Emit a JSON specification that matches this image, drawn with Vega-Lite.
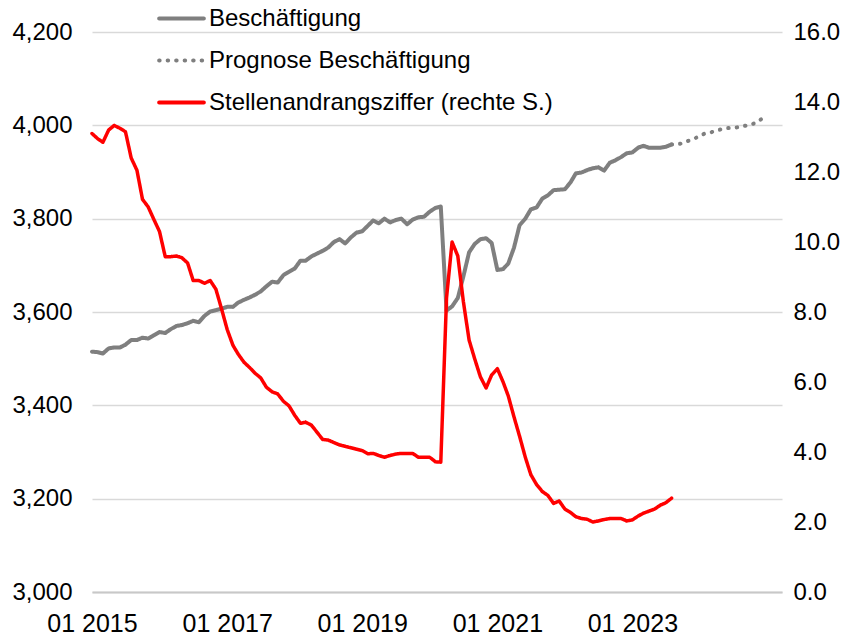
{
  "$schema": "https://vega.github.io/schema/vega-lite/v6.json",
  "width": 690,
  "height": 560,
  "autosize": {"type": "none"},
  "padding": {"left": 92, "top": 32, "right": 62, "bottom": 45},
  "background": "white",
  "config": {
    "font": "Liberation Sans",
    "view": {"stroke": null},
    "axis": {"labelColor": "#000000", "labelFontSize": 24, "ticks": false, "tickSize": 0, "domain": false, "title": null}
  },
  "datasets": {
    "emp": [
      {"d":"2015-01-01","v":3515},{"d":"2015-02-01","v":3514},{"d":"2015-03-01","v":3511},{"d":"2015-04-01","v":3522},{"d":"2015-05-01","v":3524},{"d":"2015-06-01","v":3524},{"d":"2015-07-01","v":3530},{"d":"2015-08-01","v":3540},{"d":"2015-09-01","v":3540},{"d":"2015-10-01","v":3545},{"d":"2015-11-01","v":3543},{"d":"2015-12-01","v":3550},
      {"d":"2016-01-01","v":3557},{"d":"2016-02-01","v":3555},{"d":"2016-03-01","v":3563},{"d":"2016-04-01","v":3570},{"d":"2016-05-01","v":3572},{"d":"2016-06-01","v":3576},{"d":"2016-07-01","v":3581},{"d":"2016-08-01","v":3578},{"d":"2016-09-01","v":3592},{"d":"2016-10-01","v":3601},{"d":"2016-11-01","v":3604},{"d":"2016-12-01","v":3607},
      {"d":"2017-01-01","v":3611},{"d":"2017-02-01","v":3611},{"d":"2017-03-01","v":3620},{"d":"2017-04-01","v":3626},{"d":"2017-05-01","v":3631},{"d":"2017-06-01","v":3637},{"d":"2017-07-01","v":3644},{"d":"2017-08-01","v":3655},{"d":"2017-09-01","v":3665},{"d":"2017-10-01","v":3663},{"d":"2017-11-01","v":3679},{"d":"2017-12-01","v":3686},
      {"d":"2018-01-01","v":3693},{"d":"2018-02-01","v":3710},{"d":"2018-03-01","v":3710},{"d":"2018-04-01","v":3719},{"d":"2018-05-01","v":3725},{"d":"2018-06-01","v":3731},{"d":"2018-07-01","v":3738},{"d":"2018-08-01","v":3750},{"d":"2018-09-01","v":3756},{"d":"2018-10-01","v":3747},{"d":"2018-11-01","v":3760},{"d":"2018-12-01","v":3770},
      {"d":"2019-01-01","v":3773},{"d":"2019-02-01","v":3785},{"d":"2019-03-01","v":3796},{"d":"2019-04-01","v":3790},{"d":"2019-05-01","v":3800},{"d":"2019-06-01","v":3792},{"d":"2019-07-01","v":3797},{"d":"2019-08-01","v":3800},{"d":"2019-09-01","v":3788},{"d":"2019-10-01","v":3798},{"d":"2019-11-01","v":3803},{"d":"2019-12-01","v":3804},
      {"d":"2020-01-01","v":3815},{"d":"2020-02-01","v":3823},{"d":"2020-03-01","v":3826},{"d":"2020-04-01","v":3603},{"d":"2020-05-01","v":3612},{"d":"2020-06-01","v":3630},{"d":"2020-07-01","v":3676},{"d":"2020-08-01","v":3728},{"d":"2020-09-01","v":3746},{"d":"2020-10-01","v":3756},{"d":"2020-11-01","v":3758},{"d":"2020-12-01","v":3748},
      {"d":"2021-01-01","v":3690},{"d":"2021-02-01","v":3692},{"d":"2021-03-01","v":3704},{"d":"2021-04-01","v":3738},{"d":"2021-05-01","v":3786},{"d":"2021-06-01","v":3800},{"d":"2021-07-01","v":3820},{"d":"2021-08-01","v":3824},{"d":"2021-09-01","v":3843},{"d":"2021-10-01","v":3850},{"d":"2021-11-01","v":3861},{"d":"2021-12-01","v":3862},
      {"d":"2022-01-01","v":3863},{"d":"2022-02-01","v":3878},{"d":"2022-03-01","v":3897},{"d":"2022-04-01","v":3899},{"d":"2022-05-01","v":3904},{"d":"2022-06-01","v":3908},{"d":"2022-07-01","v":3910},{"d":"2022-08-01","v":3903},{"d":"2022-09-01","v":3920},{"d":"2022-10-01","v":3925},{"d":"2022-11-01","v":3932},{"d":"2022-12-01","v":3940},
      {"d":"2023-01-01","v":3942},{"d":"2023-02-01","v":3952},{"d":"2023-03-01","v":3956},{"d":"2023-04-01","v":3952},{"d":"2023-05-01","v":3952},{"d":"2023-06-01","v":3952},{"d":"2023-07-01","v":3954},{"d":"2023-08-01","v":3959}
    ],
    "fc": [
      {"d":"2023-08-01","v":3959},{"d":"2023-09-01","v":3959},{"d":"2023-10-01","v":3962},{"d":"2023-11-01","v":3967},{"d":"2023-12-01","v":3971},
      {"d":"2024-01-01","v":3978},{"d":"2024-02-01","v":3983},{"d":"2024-03-01","v":3985},{"d":"2024-04-01","v":3989},{"d":"2024-05-01","v":3992},{"d":"2024-06-01","v":3994},{"d":"2024-07-01","v":3995},{"d":"2024-08-01","v":3996},{"d":"2024-09-01","v":3999},{"d":"2024-10-01","v":4001},{"d":"2024-11-01","v":4006},{"d":"2024-12-01","v":4014}
    ],
    "ratio": [
      {"d":"2015-01-01","r":13.1},{"d":"2015-02-01","r":12.95},{"d":"2015-03-01","r":12.85},{"d":"2015-04-01","r":13.2},{"d":"2015-05-01","r":13.33},{"d":"2015-06-01","r":13.25},{"d":"2015-07-01","r":13.15},{"d":"2015-08-01","r":12.4},{"d":"2015-09-01","r":12.05},{"d":"2015-10-01","r":11.22},{"d":"2015-11-01","r":11.0},{"d":"2015-12-01","r":10.65},
      {"d":"2016-01-01","r":10.3},{"d":"2016-02-01","r":9.58},{"d":"2016-03-01","r":9.58},{"d":"2016-04-01","r":9.6},{"d":"2016-05-01","r":9.55},{"d":"2016-06-01","r":9.4},{"d":"2016-07-01","r":8.9},{"d":"2016-08-01","r":8.9},{"d":"2016-09-01","r":8.82},{"d":"2016-10-01","r":8.9},{"d":"2016-11-01","r":8.65},{"d":"2016-12-01","r":8.1},
      {"d":"2017-01-01","r":7.5},{"d":"2017-02-01","r":7.05},{"d":"2017-03-01","r":6.8},{"d":"2017-04-01","r":6.57},{"d":"2017-05-01","r":6.42},{"d":"2017-06-01","r":6.25},{"d":"2017-07-01","r":6.12},{"d":"2017-08-01","r":5.85},{"d":"2017-09-01","r":5.72},{"d":"2017-10-01","r":5.66},{"d":"2017-11-01","r":5.45},{"d":"2017-12-01","r":5.32},
      {"d":"2018-01-01","r":5.05},{"d":"2018-02-01","r":4.82},{"d":"2018-03-01","r":4.85},{"d":"2018-04-01","r":4.77},{"d":"2018-05-01","r":4.57},{"d":"2018-06-01","r":4.36},{"d":"2018-07-01","r":4.34},{"d":"2018-08-01","r":4.27},{"d":"2018-09-01","r":4.2},{"d":"2018-10-01","r":4.16},{"d":"2018-11-01","r":4.12},{"d":"2018-12-01","r":4.08},
      {"d":"2019-01-01","r":4.04},{"d":"2019-02-01","r":3.95},{"d":"2019-03-01","r":3.96},{"d":"2019-04-01","r":3.9},{"d":"2019-05-01","r":3.85},{"d":"2019-06-01","r":3.9},{"d":"2019-07-01","r":3.94},{"d":"2019-08-01","r":3.96},{"d":"2019-09-01","r":3.96},{"d":"2019-10-01","r":3.96},{"d":"2019-11-01","r":3.85},{"d":"2019-12-01","r":3.85},
      {"d":"2020-01-01","r":3.85},{"d":"2020-02-01","r":3.72},{"d":"2020-03-01","r":3.71},{"d":"2020-04-01","r":8.4},{"d":"2020-05-01","r":10.0},{"d":"2020-06-01","r":9.6},{"d":"2020-07-01","r":8.3},{"d":"2020-08-01","r":7.2},{"d":"2020-09-01","r":6.65},{"d":"2020-10-01","r":6.15},{"d":"2020-11-01","r":5.83},{"d":"2020-12-01","r":6.2},
      {"d":"2021-01-01","r":6.38},{"d":"2021-02-01","r":6.0},{"d":"2021-03-01","r":5.6},{"d":"2021-04-01","r":5.0},{"d":"2021-05-01","r":4.45},{"d":"2021-06-01","r":3.85},{"d":"2021-07-01","r":3.35},{"d":"2021-08-01","r":3.07},{"d":"2021-09-01","r":2.87},{"d":"2021-10-01","r":2.76},{"d":"2021-11-01","r":2.53},{"d":"2021-12-01","r":2.6},
      {"d":"2022-01-01","r":2.37},{"d":"2022-02-01","r":2.27},{"d":"2022-03-01","r":2.15},{"d":"2022-04-01","r":2.1},{"d":"2022-05-01","r":2.08},{"d":"2022-06-01","r":2.0},{"d":"2022-07-01","r":2.03},{"d":"2022-08-01","r":2.07},{"d":"2022-09-01","r":2.1},{"d":"2022-10-01","r":2.1},{"d":"2022-11-01","r":2.1},{"d":"2022-12-01","r":2.03},
      {"d":"2023-01-01","r":2.06},{"d":"2023-02-01","r":2.17},{"d":"2023-03-01","r":2.25},{"d":"2023-04-01","r":2.31},{"d":"2023-05-01","r":2.37},{"d":"2023-06-01","r":2.48},{"d":"2023-07-01","r":2.55},{"d":"2023-08-01","r":2.68}
    ]
  },
  "encoding": {
    "x": {
      "field": "d", "type": "temporal",
      "scale": {"domain": [{"year": 2015, "month": 1, "date": 1}, {"year": 2025, "month": 3, "date": 20}]},
      "axis": {
        "values": [{"year": 2015, "month": 1, "date": 1}, {"year": 2017, "month": 1, "date": 1}, {"year": 2019, "month": 1, "date": 1}, {"year": 2021, "month": 1, "date": 1}, {"year": 2023, "month": 1, "date": 1}],
        "format": "%m %Y", "labelFontSize": 25, "labelPadding": 19, "labelDx": 5, "grid": false,
        "domain": true, "domainColor": "#c8c8c8", "domainWidth": 2, "labelFlush": false, "labelOverlap": false
      }
    }
  },
  "layer": [
    {
      "layer": [
        {
          "data": {"name": "emp"},
          "transform": [{"calculate": "'Beschäftigung'", "as": "s"}],
          "mark": {"type": "line", "strokeWidth": 4, "strokeCap": "round", "strokeJoin": "round"},
          "encoding": {
            "y": {"field": "v", "type": "quantitative", "scale": {"domain": [3000, 4200]},
              "axis": {"orient": "left", "values": [3000, 3200, 3400, 3600, 3800, 4000, 4200], "format": ",d", "labelPadding": 20, "grid": true, "gridColor": "#d9d9d9", "gridWidth": 1.5}},
            "color": {"field": "s", "type": "nominal",
              "scale": {"domain": ["Beschäftigung", "Prognose Beschäftigung", "Stellenandrangsziffer (rechte S.)"], "range": ["#7f7f7f", "#7f7f7f", "#ff0000"]},
              "legend": {"orient": "none", "legendX": 65, "legendY": -38, "title": null, "symbolType": "stroke", "symbolSize": 2000, "symbolStrokeWidth": 4, "labelFontSize": 24, "labelColor": "#000000", "labelOffset": 3, "rowPadding": 5, "padding": 0, "labelLimit": 500,
                "encode": {"symbols": {"update": {"strokeCap": {"value": "round"}}}}}},
            "strokeDash": {"field": "s", "type": "nominal",
              "scale": {"domain": ["Beschäftigung", "Prognose Beschäftigung", "Stellenandrangsziffer (rechte S.)"], "range": [[1, 0], [0.5, 8], [1, 0]]},
              "legend": null}
          }
        },
        {
          "data": {"name": "fc"},
          "transform": [{"calculate": "'Prognose Beschäftigung'", "as": "s"}],
          "mark": {"type": "line", "strokeWidth": 4, "strokeCap": "round"},
          "encoding": {
            "y": {"field": "v", "type": "quantitative"},
            "color": {"field": "s", "type": "nominal"},
            "strokeDash": {"field": "s", "type": "nominal"}
          }
        }
      ]
    },
    {
      "data": {"name": "ratio"},
      "transform": [{"calculate": "'Stellenandrangsziffer (rechte S.)'", "as": "s"}],
      "mark": {"type": "line", "strokeWidth": 3.5, "strokeCap": "round", "strokeJoin": "round"},
      "encoding": {
        "y": {"field": "r", "type": "quantitative", "scale": {"domain": [0, 16]},
          "axis": {"orient": "right", "values": [0, 2, 4, 6, 8, 10, 12, 14, 16], "format": ".1f", "labelPadding": 11, "grid": false}},
        "color": {"field": "s", "type": "nominal"},
        "strokeDash": {"field": "s", "type": "nominal"}
      }
    }
  ],
  "resolve": {"scale": {"y": "independent"}}
}
